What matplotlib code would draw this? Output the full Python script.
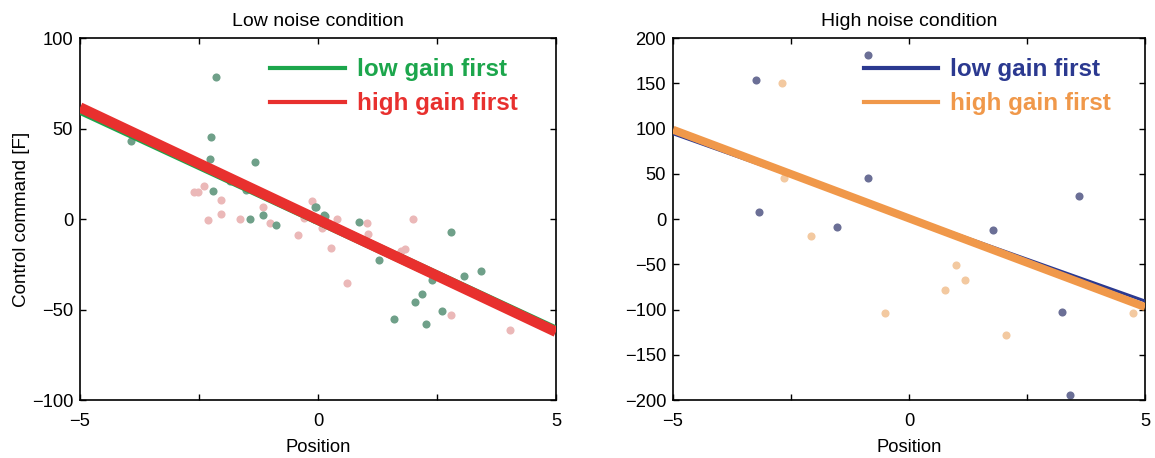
import matplotlib
matplotlib.use("Agg")
import numpy as np
from matplotlib import pyplot as plt
from matplotlib.lines import Line2D

plt.rcParams["font.family"] = ["Liberation Sans", "DejaVu Sans"]

# low noise condition: scatter points
low_lg_x = [-2.15, -3.92, -3.97, -2.24, -2.27, -1.32, -1.85, -1.51, -2.2, -1.42,
            -1.16, -0.88, -0.06, 0.13, -0.05, 0.15, -0.09, 0.86, 1.28, 2.39,
            2.8, 3.07, 3.43, 2.18, 2.04, 2.61, 1.59, 2.28]
low_lg_y = [78.7, 43.2, 49, 45.2, 33, 31.4, 20.9, 16.1, 15.6, 0,
            2.5, -3, 6.5, 2, 6.5, 1.9, 0, -1.6, -22.5, -33.6,
            -6.9, -31.4, -28.5, -41.5, -45.8, -50.6, -55.2, -58.1]
low_hg_x = [-2.6, -2.53, -2.39, -2.04, -2.04, -2.31, -1.63, -1.15, -1.01, -0.13,
            -0.29, -0.42, 0.08, 0.41, 0.27, 0.6, 1.03, 1.06, 1.99, 1.75,
            1.82, 2.8, 4.03]
low_hg_y = [14.8, 15.2, 18.5, 10.6, 2.7, -0.4, 0, 6.5, -2, 10.2,
            0.4, -9, -4.9, 0, -15.9, -35.3, -2, -8.4, 0.3, -17.4,
            -16.5, -53, -61.4]

# high noise condition: scatter points
high_lg_x = [-0.87, -3.25, -0.87, -3.17, -1.52, 1.78, 3.61, 3.24, 3.41]
high_lg_y = [181, 153.7, 45.6, 7.4, -8.5, -12.5, 25.4, -103, -194.5]
high_hg_x = [-2.70, -2.64, -2.07, -0.50, 0.77, 1.0, 1.19, 2.05, 4.75]
high_hg_y = [150, 45.2, -18.8, -104, -78.7, -50.7, -66.9, -128.3, -103.3]

# fitted lines: (slope, intercept)
low_fit = {"low gain first": (-12.2, -0.6), "high gain first": (-12.4, -0.3)}
high_fit = {"low gain first": (-18.5, 1.9), "high gain first": (-19.6, 0.8)}

x_line = np.array([-5, 5])

fig = plt.figure(figsize=(11.55, 4.58), dpi=100)
ax1 = fig.add_axes([0.0693, 0.1266, 0.412, 0.790])
ax2 = fig.add_axes([0.5827, 0.1266, 0.4087, 0.790])

# left panel
ax1.scatter(low_hg_x, low_hg_y, s=34, color="#ebb8b8", lw=0, zorder=2)
ax1.scatter(low_lg_x, low_lg_y, s=34, color="#6fa089", lw=0, zorder=2)
m, b = low_fit["low gain first"]
ax1.plot(x_line, m * x_line + b, color="#1ca64c", lw=7, solid_capstyle="butt", zorder=3)
m, b = low_fit["high gain first"]
ax1.plot(x_line, m * x_line + b, color="#e8302e", lw=7.5, solid_capstyle="butt", zorder=4)

# right panel
ax2.scatter(high_lg_x, high_lg_y, s=34, color="#6b6f96", lw=0, zorder=2)
ax2.scatter(high_hg_x, high_hg_y, s=34, color="#f3c9a0", lw=0, zorder=2)
m, b = high_fit["low gain first"]
ax2.plot(x_line, m * x_line + b, color="#2b3990", lw=2.2, solid_capstyle="butt", zorder=3)
m, b = high_fit["high gain first"]
ax2.plot(x_line, m * x_line + b, color="#f0984a", lw=5.8, solid_capstyle="butt", zorder=4)

for ax, colors, anchor in [
    (ax1, ["#1ca64c", "#e8302e"], (0.40, 0.944)),
    (ax2, ["#2b3990", "#f0984a"], (0.405, 0.944)),
]:
    handles = [Line2D([], [], color=c, lw=3) for c in colors]
    leg = ax.legend(handles, ["low gain first", "high gain first"],
                    loc="upper left", bbox_to_anchor=anchor, frameon=False,
                    prop={"weight": "bold", "size": 17.5},
                    handlelength=3.05, handletextpad=0.5, labelspacing=0.45,
                    borderpad=0, borderaxespad=0)
    for t, c in zip(leg.get_texts(), colors):
        t.set_color(c)
    ax.set_xlim(-5, 5)
    ax.set_xticks([-5, -2.5, 0, 2.5, 5])
    ax.set_xticklabels(["\u22125", "", "0", "", "5"])
    ax.tick_params(direction="in", top=True, right=True, length=4.5, width=1,
                   labelsize=13.2)
    ax.tick_params(axis="x", pad=9)
    ax.tick_params(axis="y", pad=5)
    ax.set_xlabel("Position", fontsize=13.2, labelpad=7)
    for s in ax.spines.values():
        s.set_linewidth(1.2)

ax1.set_ylim(-100, 100)
ax1.set_yticks([-100, -50, 0, 50, 100])
ax1.set_ylabel("Control command [F]", fontsize=13.6, labelpad=1)
ax1.set_title("Low noise condition", fontsize=14, pad=9)

ax2.set_ylim(-200, 200)
ax2.set_yticks(np.arange(-200, 201, 50))
ax2.set_title("High noise condition", fontsize=14, pad=9)

fig.savefig("out.png", dpi=100)
